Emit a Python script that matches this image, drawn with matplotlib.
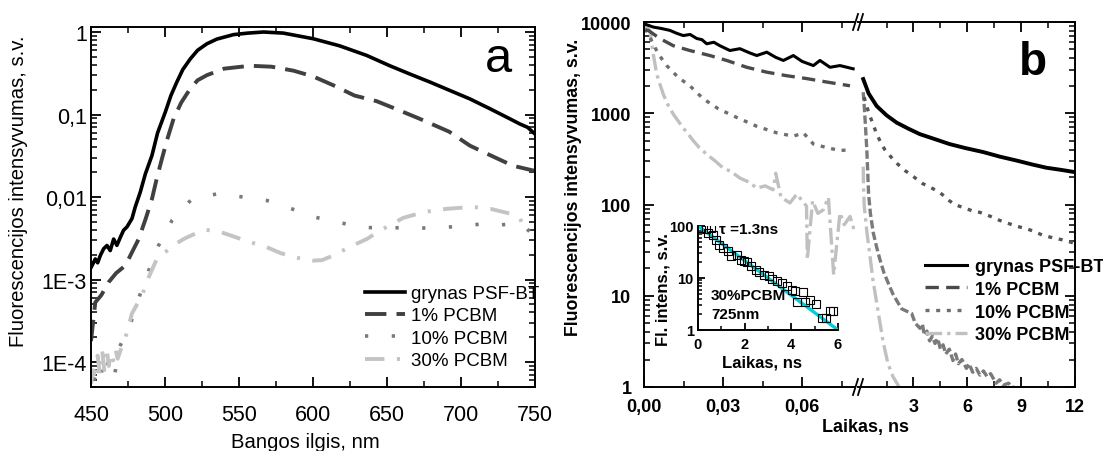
import matplotlib
matplotlib.use("Agg")
import matplotlib.pyplot as plt
from matplotlib.lines import Line2D
from matplotlib.ticker import FixedLocator, FixedFormatter, NullFormatter, LogLocator

# ---------------- data: panel a (spectra) ----------------
grynas_a_nm = [450, 450.7, 452.9, 454.5, 456.3, 458.5, 460.8, 463, 465.3, 467.5, 469.8, 472,
               474.3, 477.7, 479.9, 483.3, 486.7, 491.2, 495, 500.2, 504, 508, 512, 517, 522,
               528.3, 535, 546.3, 556, 566.6, 580, 600, 618, 636.3, 651.9, 665.4, 678.9, 692.4,
               705.9, 719.4, 732.9, 739.7, 745, 750]
grynas_a = [1.4e-3, 1.48e-3, 1.78e-3, 1.6e-3, 1.96e-3, 2.36e-3, 2.59e-3, 2.25e-3, 3.1e-3, 2.6e-3,
            3.25e-3, 3.96e-3, 4.35e-3, 5.5e-3, 7.6e-3, 1.15e-2, 0.019, 0.032, 0.06, 0.107, 0.17,
            0.248, 0.35, 0.47, 0.6, 0.72, 0.82, 0.93, 0.97, 1.0, 0.97, 0.83, 0.68, 0.52, 0.39,
            0.31, 0.248, 0.196, 0.155, 0.118, 0.089, 0.077, 0.07, 0.058]

pcbm1_a_nm = [450, 452.9, 457, 461.9, 467, 473.2, 478, 482.2, 487, 491.2, 494.5, 497.9, 501.5,
              505.8, 511, 517, 522, 528.3, 540, 557.5, 572, 586.8, 600, 613.8, 628, 643.1, 657,
              672, 692, 706, 720, 735, 748.7, 750]
pcbm1_a = [1.8e-4, 5.3e-4, 6.5e-4, 9.3e-4, 1.2e-3, 1.48e-3, 2.2e-3, 3.1e-3, 5.5e-3, 9.5e-3,
           0.017, 0.029, 0.05, 0.089, 0.14, 0.205, 0.26, 0.30, 0.36, 0.39, 0.38, 0.34, 0.29,
           0.226, 0.17, 0.145, 0.115, 0.089, 0.062, 0.042, 0.032, 0.024, 0.021, 0.021]

pcbm10_a_nm = [452, 456, 459, 462, 466, 469, 473.2, 477.7, 483, 489, 495.7, 504.7, 518.2, 536,
               553, 568.8, 585.7, 601.4, 616, 633, 650, 664, 677, 689, 705, 716, 727, 737, 744, 750]
pcbm10_a = [6e-5, 1e-4, 6e-5, 1.1e-4, 7e-5, 1.5e-4, 2.1e-4, 3.3e-4, 6.5e-4, 1.29e-3, 2.6e-3,
            5.2e-3, 9.5e-3, 0.011, 0.01, 9.1e-3, 7.2e-3, 5.7e-3, 5e-3, 4.3e-3, 4.2e-3, 4.3e-3,
            4.2e-3, 4.3e-3, 4.5e-3, 4.8e-3, 4.6e-3, 4.8e-3, 4.2e-3, 3.3e-3]

pcbm30_a_nm = [450, 451.5, 453, 454.5, 456, 457.5, 459, 460.5, 462, 463.5, 465, 466.5, 468, 470,
               473, 477.7, 484.4, 489, 494.6, 500.2, 507, 514, 520.4, 527, 535, 545, 556, 568.8,
               578, 586.8, 600, 606, 613.8, 625, 636.3, 645, 661, 675, 690, 708, 720, 728.6, 735,
               739.8, 742]
pcbm30_a = [5.5e-5, 8e-5, 6e-5, 1.2e-4, 7e-5, 1.4e-4, 8e-5, 1.5e-4, 9e-5, 1.3e-4, 1.05e-4,
            1.45e-4, 1.1e-4, 1.4e-4, 1.9e-4, 3.9e-4, 6.4e-4, 1.07e-3, 1.8e-3, 2.15e-3, 2.7e-3,
            3.2e-3, 3.6e-3, 4.0e-3, 3.9e-3, 3.4e-3, 2.9e-3, 2.47e-3, 2.1e-3, 1.87e-3, 1.7e-3,
            1.72e-3, 1.96e-3, 2.5e-3, 3.1e-3, 3.9e-3, 5.6e-3, 6.6e-3, 7.2e-3, 7.6e-3, 7.2e-3,
            6.6e-3, 6.2e-3, 5.5e-3, 4.6e-3]

# ---------------- data: panel b (decays), short range (ns) ----------------
grynas_b1_t = [0.0003, 0.0035, 0.0065, 0.0098, 0.0125, 0.0149, 0.0175, 0.020, 0.022, 0.0238,
               0.0265, 0.0288, 0.0326, 0.0364, 0.040, 0.0428, 0.0466, 0.050, 0.0529, 0.0567,
               0.060, 0.0643, 0.0668, 0.0706, 0.0744, 0.0794]
grynas_b1 = [9500, 8800, 8500, 8100, 7500, 7100, 7300, 6600, 6400, 5770, 6000, 5500, 4870, 5100,
             4600, 4290, 4670, 4100, 3790, 4290, 3700, 3330, 3790, 3190, 3330, 3070]

pcbm1_b1_t = [0.0005, 0.0016, 0.006, 0.0111, 0.0174, 0.025, 0.0314, 0.039, 0.0466, 0.0541,
              0.0617, 0.0693, 0.0782]
pcbm1_b1 = [8000, 8100, 6600, 5500, 4870, 4290, 3790, 3190, 2820, 2580, 2400, 2200, 2000]

pcbm10_b1_t = [0.0005, 0.0022, 0.0054, 0.0086, 0.013, 0.0174, 0.0225, 0.0282, 0.0352, 0.0428,
               0.0504, 0.0567, 0.0605, 0.0643, 0.0694, 0.0744, 0.0789]
pcbm10_b1 = [8500, 6800, 4480, 3330, 2470, 2000, 1440, 1120, 900, 720, 610, 560, 610, 460, 420,
             390, 400]

pcbm30_b1_t = [0.0005, 0.0022, 0.0035, 0.0048, 0.006, 0.0073, 0.009, 0.0111, 0.013, 0.0149,
               0.017, 0.0187, 0.021, 0.0238, 0.027, 0.030, 0.033, 0.0364, 0.040, 0.0428, 0.046,
               0.049, 0.050, 0.052, 0.0554, 0.058, 0.0617, 0.062, 0.064, 0.066, 0.068, 0.070,
               0.072, 0.0744, 0.076, 0.0782, 0.080]
pcbm30_b1 = [9000, 8100, 4480, 2700, 2100, 1620, 1250, 980, 820, 690, 580, 500, 420, 355, 300,
             252, 230, 195, 175, 151, 160, 145, 220, 120, 104, 130, 96, 25, 110, 80, 87, 120, 17,
             81, 60, 74, 50]

# ---------------- data: panel b, long range (ns) ----------------
grynas_b2_t = [0.2, 0.5, 0.95, 1.5, 2.06, 2.7, 3.36, 4.2, 5.0, 5.9, 6.9, 7.8, 8.75, 9.6, 10.4,
               11.2, 11.9]
grynas_b2 = [2370, 1650, 1200, 950, 790, 680, 590, 520, 460, 415, 375, 335, 303, 275, 253, 240,
             228]

slow_b2_t = [0.25, 0.53, 0.75, 0.95, 1.2, 1.4, 1.79, 2.1, 2.53, 2.9, 3.2, 3.5, 3.83, 4.2, 4.5,
             5.0, 5.3, 5.8, 6.3, 6.7, 7.3, 7.8, 8.2, 8.7, 9.2, 9.7, 10.2, 10.8, 11.3, 11.9]
slow_b2 = [1500, 980, 760, 590, 470, 400, 325, 280, 235, 210, 188, 170, 158, 145, 134, 110, 100,
           92, 85, 82, 74, 67, 63, 58, 55, 51, 46, 43, 41, 38]

fast_b2_t = [0.2, 0.27, 0.33, 0.4, 0.45, 0.5, 0.6, 0.76, 0.95, 1.13, 1.35, 1.6, 1.85, 2.06, 2.34,
             2.6, 2.9, 3.1, 3.36, 3.5, 3.6, 3.75, 3.9, 4.05, 4.2, 4.35, 4.5, 4.65, 4.8, 5.0, 5.2,
             5.35, 5.5, 5.7, 5.95, 6.1, 6.3, 6.5, 6.7, 6.9, 7.1, 7.3, 7.6, 7.8, 8.0, 8.3, 8.5, 9.0]
fast_b2 = [1700, 1100, 700, 400, 230, 130, 80, 49, 34, 25, 18, 13.7, 10.5, 8.9, 7.2, 6.8, 6.4,
           5.0, 4.4, 4.9, 3.7, 4.1, 3.2, 3.6, 3.0, 3.4, 2.6, 2.9, 2.3, 2.6, 1.95, 2.3, 1.8, 2.0,
           1.6, 1.8, 1.45, 1.6, 1.35, 1.5, 1.3, 1.4, 1.1, 1.2, 1.05, 1.1, 1.0, 0.95]

light_b2_t = [0.2, 0.22, 0.26, 0.41, 0.58, 0.74, 1.02, 1.3, 1.58, 1.86, 2.14, 2.3]
light_b2 = [260, 150, 95, 49, 27, 15, 6.9, 3.2, 1.8, 1.3, 1.05, 0.9]

# ---------------- data: inset ----------------
inset_t = [0.14, 0.35, 0.56, 0.42, 0.64, 0.78, 0.92, 1.06, 1.27, 1.41, 1.69, 1.84, 1.98, 2.12,
           2.26, 2.47, 2.61, 2.82, 3.04, 3.18, 3.39, 3.6, 3.81, 4.03, 4.17, 4.52, 4.24, 4.59,
           4.8, 5.06, 5.3, 5.48, 5.65, 5.79]
inset_y = [93, 86, 93, 74, 66, 55, 44, 37, 33, 27, 28, 22.5, 21, 20, 17, 14, 13, 11.2, 10.8,
           9.7, 8.6, 8.0, 7.1, 5.9, 5.7, 5.5, 3.5, 3.5, 3.7, 3.2, 1.7, 1.7, 2.35, 2.35]
fit_t = [0, 6]
fit_y = [100, 1.0]

a_xticks = [450, 500, 550, 600, 650, 700, 750]
a_yticks = [1e-4, 1e-3, 1e-2, 1e-1, 1]
a_ylabels = ["1E-4", "1E-3", "0,01", "0,1", "1"]
b_yticks = [1, 10, 100, 1000, 10000]
b_ylabels = ["1", "10", "100", "1000", "10000"]
b1_xticks = [0.0, 0.03, 0.06]
b1_xlabels = ["0,00", "0,03", "0,06"]
b2_xticks = [3, 6, 9, 12]
labels = ["grynas PSF-BT", "1% PCBM", "10% PCBM", "30% PCBM"]

# ---------------- layout helpers (pixels) ----------------
W, H = 1103, 452


def rect(l, t, r, b):
    return [l / W, 1 - b / H, (r - l) / W, (b - t) / H]


def fx(x):
    return x / W


def fy(y):
    return 1 - y / H


plt.rcParams.update({
    "font.family": ["Liberation Sans", "DejaVu Sans"],
    "axes.linewidth": 1.4,
    "xtick.major.width": 1.3, "ytick.major.width": 1.3,
    "xtick.minor.width": 1.1, "ytick.minor.width": 1.1,
})

fig = plt.figure(figsize=(W / 100, H / 100), dpi=100)

# ================= panel a =================
axA = fig.add_axes(rect(91, 28, 535, 388))
axA.plot(grynas_a_nm, grynas_a, color="black", lw=2.6, label=labels[0])
axA.plot(pcbm1_a_nm, pcbm1_a, color="#404040", lw=2.8, dashes=(5.5, 2.6), label=labels[1])
axA.plot(pcbm10_a_nm, pcbm10_a, color="#7a7a7a", lw=2.6, dashes=(0.9, 6.5), label=labels[2])
axA.plot(pcbm30_a_nm, pcbm30_a, color="#c4c4c4", lw=2.8, dashes=(5, 3.2, 0.8, 3.2),
         label=labels[3])
axA.set_yscale("log")
axA.set_xlim(450, 750)
axA.set_ylim(5e-5, 1.15)
axA.xaxis.set_major_locator(FixedLocator(a_xticks))
axA.xaxis.set_minor_locator(FixedLocator([475, 525, 575, 625, 675, 725]))
axA.yaxis.set_major_locator(FixedLocator(a_yticks))
axA.yaxis.set_major_formatter(FixedFormatter(a_ylabels))
axA.yaxis.set_minor_locator(LogLocator(base=10, subs=range(2, 10)))
axA.yaxis.set_minor_formatter(NullFormatter())
axA.tick_params(which="both", direction="in", top=True, right=True, labelsize=15.5)
axA.tick_params(which="major", length=7)
axA.tick_params(which="minor", length=4)
axA.tick_params(axis="x", pad=12)
axA.tick_params(axis="y", pad=3)
axA.legend(loc="upper left", bbox_to_anchor=(fx(365), fy(286)), bbox_transform=fig.transFigure,
           frameon=False, fontsize=13.5, handlelength=2.15, handletextpad=0.32,
           labelspacing=0.28, borderpad=0, borderaxespad=0)
fig.text(fx(305), fy(443), "Bangos ilgis, nm", fontsize=14.6, ha="center", va="center")
fig.text(fx(19), fy(191), "Fluorescencijos intensyvumas, s.v.", fontsize=14.6, rotation=90,
         ha="center", va="center")
fig.text(fx(498), fy(60), "a", fontsize=35, ha="center", va="center")

# ================= panel b =================
axL = fig.add_axes(rect(644, 23, 855, 388))
axR = fig.add_axes(rect(858, 23, 1075, 388))

st_black = dict(color="black", lw=2.2)
st_1 = dict(color="#4a4a4a", lw=2.4, dashes=(4, 2.2))
st_10 = dict(color="#6e6e6e", lw=2.4, dashes=(1.2, 2.0))
st_30 = dict(color="#c0c0c0", lw=2.4, dashes=(5, 1.5, 1, 1.5))

l30, = axL.plot(pcbm30_b1_t, pcbm30_b1, **st_30, label=labels[3])
l10, = axL.plot(pcbm10_b1_t, pcbm10_b1, **st_10, label=labels[2])
l1, = axL.plot(pcbm1_b1_t, pcbm1_b1, **st_1, label=labels[1])
l0, = axL.plot(grynas_b1_t, grynas_b1, **st_black, label=labels[0])

axR.plot(light_b2_t, light_b2, **st_30)
axR.plot(fast_b2_t, fast_b2, color="#7a7a7a", lw=2.4, dashes=(2.5, 1.0))
axR.plot(slow_b2_t, slow_b2, color="#555555", lw=2.4, dashes=(1.2, 2.0))
axR.plot(grynas_b2_t, grynas_b2, color="black", lw=2.8)

for ax in (axL, axR):
    ax.set_yscale("log")
    ax.set_ylim(1, 10000)
    ax.yaxis.set_major_locator(FixedLocator(b_yticks))
    ax.yaxis.set_minor_locator(LogLocator(base=10, subs=range(2, 10)))
    ax.yaxis.set_minor_formatter(NullFormatter())
    ax.tick_params(which="both", direction="in", top=True)
    ax.tick_params(which="major", length=7)
    ax.tick_params(which="minor", length=4)

axL.set_xlim(0, 0.0801)
axL.xaxis.set_major_locator(FixedLocator(b1_xticks))
axL.xaxis.set_major_formatter(FixedFormatter(b1_xlabels))
axL.xaxis.set_minor_locator(FixedLocator([0.015, 0.045, 0.075]))
axL.yaxis.set_major_formatter(FixedFormatter(b_ylabels))
axL.spines["right"].set_visible(False)
axL.tick_params(which="both", right=False)
axL.tick_params(axis="x", pad=8)
axL.tick_params(axis="y", pad=9)

axR.set_xlim(-0.09, 12.0)
axR.xaxis.set_major_locator(FixedLocator(b2_xticks))
axR.xaxis.set_minor_locator(FixedLocator([1.5, 4.5, 7.5, 10.5]))
axR.spines["left"].set_visible(False)
axR.tick_params(which="both", left=False, right=True, labelleft=False)
axR.tick_params(axis="x", pad=8)

for ax in (axL, axR):
    for lab in ax.get_xticklabels() + ax.get_yticklabels():
        lab.set_fontweight("bold")
        lab.set_fontsize(13)

# axis break marks
for y0 in (23, 388):
    for dx in (0, 5):
        fig.add_artist(Line2D([fx(853 + dx), fx(858 + dx)], [fy(y0 + 8), fy(y0 - 8)],
                              color="black", lw=1.3))

axR.legend(handles=[l0, l1, l10, l30], labels=labels, loc="upper left",
           bbox_to_anchor=(fx(925), fy(259)), bbox_transform=fig.transFigure,
           frameon=False, prop={"weight": "bold", "size": 13},
           handlelength=2.3, handletextpad=0.45,
           labelspacing=0.32, borderpad=0, borderaxespad=0)

fig.text(fx(865), fy(428), "Laikas, ns", fontsize=13, fontweight="bold", ha="center",
         va="center")
fig.text(fx(573), fy(187), "Fluorescencijos intensyvumas, s.v.", fontsize=12.8,
         fontweight="bold", rotation=90, ha="center", va="center")
fig.text(fx(1033), fy(63), "b", fontsize=33, fontweight="bold", ha="center", va="center")

# ================= inset =================
axI = fig.add_axes(rect(698, 227, 838, 331))
axI.patch.set_alpha(0)
axI.plot(fit_t, fit_y, color="#00d0d8", lw=2.4, zorder=2)
axI.plot(inset_t, inset_y, ls="none", marker="s", ms=5.2, mfc="none", mec="black", mew=0.8,
         zorder=3)
axI.set_yscale("log")
axI.set_xlim(0, 6)
axI.set_ylim(1, 100)
axI.xaxis.set_major_locator(FixedLocator([0, 2, 4, 6]))
axI.xaxis.set_minor_locator(FixedLocator([1, 3, 5]))
axI.yaxis.set_major_locator(FixedLocator([1, 10, 100]))
axI.yaxis.set_major_formatter(FixedFormatter(["1", "10", "100"]))
axI.yaxis.set_minor_locator(LogLocator(base=10, subs=range(2, 10)))
axI.yaxis.set_minor_formatter(NullFormatter())
axI.spines["top"].set_visible(False)
axI.spines["right"].set_visible(False)
axI.tick_params(which="both", direction="in", labelsize=10.5)
axI.tick_params(which="major", length=5)
axI.tick_params(which="minor", length=3)
axI.tick_params(axis="x", pad=5)
axI.tick_params(axis="y", pad=3)
for lab in axI.get_xticklabels() + axI.get_yticklabels():
    lab.set_fontweight("bold")
fig.text(fx(762), fy(363), "Laikas, ns", fontsize=12, fontweight="bold", ha="center",
         va="center")
fig.text(fx(663), fy(290), "Fl. intens., s.v.", fontsize=12, fontweight="bold", rotation=90,
         ha="center", va="center")
fig.text(fx(719), fy(230), "τ =1.3ns", fontsize=11, fontweight="bold", ha="left", va="center")
fig.text(fx(711), fy(296), "30%PCBM", fontsize=11, fontweight="bold", ha="left", va="center")
fig.text(fx(711), fy(315), "725nm", fontsize=11, fontweight="bold", ha="left", va="center")

fig.savefig("out.png", dpi=100)
